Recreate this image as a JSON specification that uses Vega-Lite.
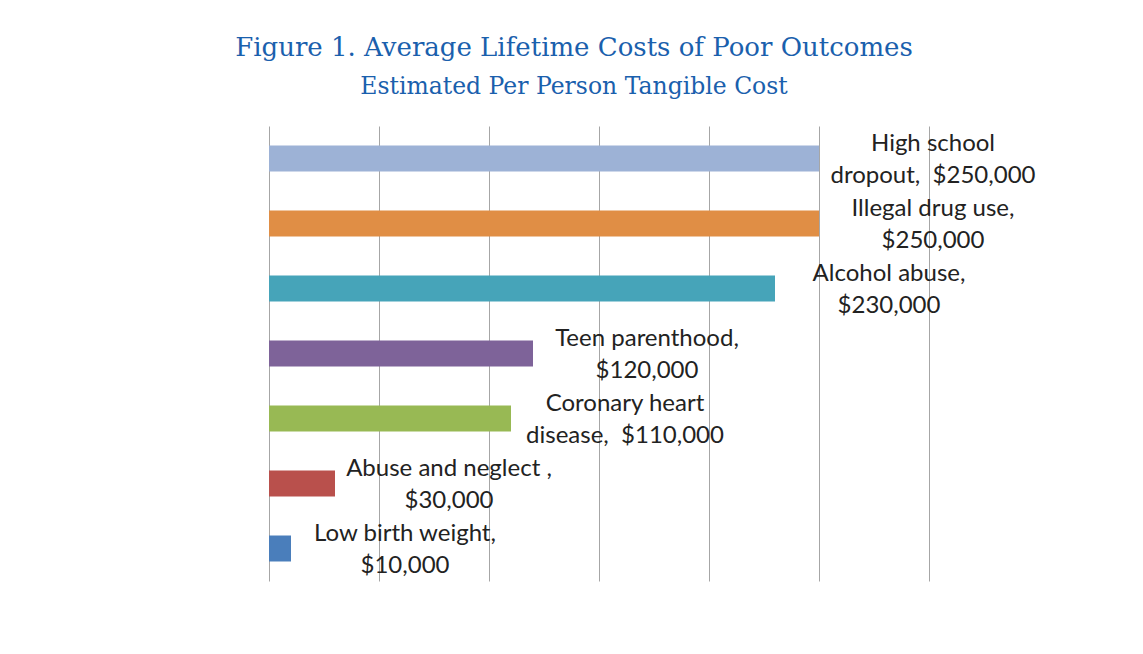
{
  "$schema": "https://vega.github.io/schema/vega-lite/v6.json",
  "autosize": {"type": "none"},
  "width": 660,
  "height": 455,
  "padding": {"left": 269, "top": 126, "right": 214, "bottom": 73},
  "background": "white",
  "title": {
    "text": "Figure 1. Average Lifetime Costs of Poor Outcomes",
    "subtitle": "Estimated Per Person Tangible Cost",
    "anchor": "middle",
    "frame": "group",
    "dx": -25,
    "offset": 28,
    "font": "DejaVu Serif",
    "fontSize": 26,
    "fontWeight": "normal",
    "color": "#1a60ad",
    "subtitleFont": "DejaVu Serif",
    "subtitleFontSize": 23.5,
    "subtitleColor": "#1a60ad",
    "subtitlePadding": 14
  },
  "config": {"view": {"stroke": null}},
  "data": {
    "values": [
      {"outcome": "High school dropout", "cost": 250000, "label": "High school\ndropout,\u00a0 $250,000", "color": "#9db2d6"},
      {"outcome": "Illegal drug use", "cost": 250000, "label": "Illegal drug use,\n$250,000", "color": "#e08e45"},
      {"outcome": "Alcohol abuse", "cost": 230000, "label": "Alcohol abuse,\n$230,000", "color": "#46a4b9"},
      {"outcome": "Teen parenthood", "cost": 120000, "label": "Teen parenthood,\n$120,000", "color": "#7e6399"},
      {"outcome": "Coronary heart disease", "cost": 110000, "label": "Coronary heart\ndisease,\u00a0 $110,000", "color": "#98b954"},
      {"outcome": "Abuse and neglect", "cost": 30000, "label": "Abuse and neglect ,\n$30,000", "color": "#b9504c"},
      {"outcome": "Low birth weight", "cost": 10000, "label": "Low birth weight,\n$10,000", "color": "#4a7ebb"}
    ]
  },
  "encoding": {
    "y": {
      "field": "outcome",
      "type": "nominal",
      "sort": null,
      "axis": null,
      "scale": {"paddingInner": 0.6, "paddingOuter": 0.3}
    },
    "x": {
      "field": "cost",
      "type": "quantitative",
      "scale": {"domain": [0, 300000], "nice": false, "zero": true},
      "axis": {
        "values": [0, 50000, 100000, 150000, 200000, 250000, 300000],
        "grid": true,
        "gridColor": "#a6a6a6",
        "gridWidth": 1,
        "gridOpacity": 1,
        "ticks": false,
        "labels": false,
        "domain": false,
        "title": null
      }
    }
  },
  "layer": [
    {
      "mark": {"type": "bar"},
      "encoding": {
        "color": {"field": "color", "type": "nominal", "scale": null, "legend": null}
      }
    },
    {
      "mark": {
        "type": "text",
        "align": "center",
        "baseline": "middle",
        "dx": 114,
        "dy": -15,
        "lineBreak": "\n",
        "lineHeight": 32,
        "font": "Lato",
        "fontSize": 24,
        "color": "#222222"
      },
      "encoding": {
        "text": {"field": "label", "type": "nominal"}
      }
    }
  ]
}
